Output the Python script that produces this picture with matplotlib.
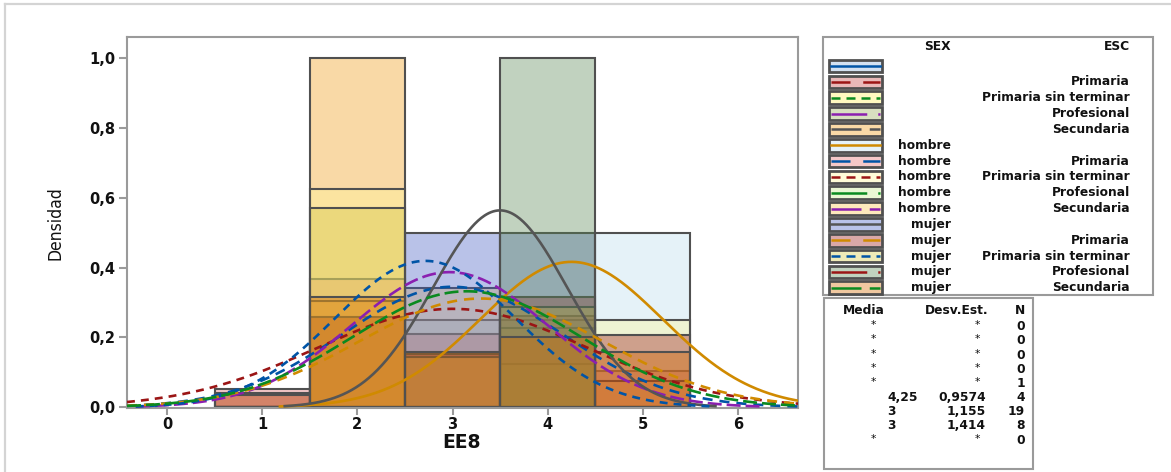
import numpy as np
import matplotlib
matplotlib.use("Agg")
import matplotlib.pyplot as plt
from matplotlib.patches import Rectangle
from matplotlib.lines import Line2D
from matplotlib.colors import to_rgb

# ---------------- data ----------------
bin_centers = [1, 2, 3, 4, 5]
x_ticks = [0, 1, 2, 3, 4, 5, 6]
y_ticks = [0.0, 0.2, 0.4, 0.6, 0.8, 1.0]
y_tick_labels = ["0,0", "0,2", "0,4", "0,6", "0,8", "1,0"]

sex_labels = ["", "", "", "", "", "hombre", "hombre", "hombre", "hombre", "hombre",
              "mujer", "mujer", "mujer", "mujer", "mujer"]
esc_labels = ["", "Primaria", "Primaria sin terminar", "Profesional", "Secundaria",
              "", "Primaria", "Primaria sin terminar", "Profesional", "Secundaria",
              "", "Primaria", "Primaria sin terminar", "Profesional", "Secundaria"]

# histogram densities per group (bins 1..5)
dens_secundaria = [0, 1.0, 0, 0, 0]
dens_hombre = [0, 0, 0.25, 0.25, 0.5]
dens_hombre_primaria = [0.053, 0.368, 0.21, 0.263, 0.105]
dens_hombre_pst = [0, 0.625, 0, 0.125, 0.25]
dens_hombre_secundaria = [0.042, 0.305, 0.343, 0.226, 0.074]
dens_mujer = [0, 0, 0.5, 0.5, 0]
dens_mujer_primaria = [0.036, 0.26, 0.154, 0.316, 0.208]
dens_mujer_pst = [0, 0.571, 0.143, 0.286, 0]
dens_mujer_profesional = [0, 0, 0, 1.0, 0]
dens_mujer_secundaria = [0, 0.317, 0.158, 0.2, 0.158]

# fitted normal parameters (mean, sd) per group; None = no curve
fit_mean = [None, None, None, None, None, 4.25, 3.0, 3.0, None, 2.97, 3.5, 3.3, 2.714, None, 3.15]
fit_sd = [None, None, None, None, None, 0.9574, 1.155, 1.414, None, 1.03, 0.7071, 1.28, 0.951, None, 1.2]

# stats table (visible rows)
tab_media = ["*", "*", "*", "*", "*", "4,25", "3", "3", "*"]
tab_desv = ["*", "*", "*", "*", "*", "0,9574", "1,155", "1,414", "*"]
tab_n = ["0", "0", "0", "0", "1", "4", "19", "8", "0"]

# ---------------- styles ----------------
group_dens = [None, None, None, None, dens_secundaria, dens_hombre, dens_hombre_primaria,
              dens_hombre_pst, None, dens_hombre_secundaria, dens_mujer, dens_mujer_primaria,
              dens_mujer_pst, dens_mujer_profesional, dens_mujer_secundaria]

# swatch colours (fill seen over white)
swatch_cols = ["#d3e1f1", "#e9b9b9", "#fff9c0", "#d8dfc0", "#f9d9a6", "#e6f2f8", "#f5c8c8",
               "#fffcd8", "#eaf7d4", "#fde8bc", "#b9c2e8", "#d9a8a8", "#eeeab8", "#c1d2bf", "#f0c8a0"]
ALPHA = 0.37

def base_col(c):
    rgb = np.array(to_rgb(c))
    return tuple(np.clip(1 - (1 - rgb) / ALPHA, 0, 1))

fill_rgba = [base_col(c) + (ALPHA,) for c in swatch_cols]

line_cols_cycle = ["#0054a6", "#9b1515", "#0a8a20", "#8b1fb0", "#555555", "#d08a00"]
line_cols = [line_cols_cycle[i % 6] for i in range(15)]
dash_cycle = ["-", (0, (3.8, 2.65)), (0, (3.0, 2.3)), (0, (7.6, 1.9)), (0, (5.3, 1.9))]
line_styles = [dash_cycle[i % 5] for i in range(15)]
legend_dash_cycle = ["-", (0, (7.6, 5.1)), (0, (3.6, 2.4)), (0, (14.3, 4.4)), (0, (12.0, 3.3))]

W, H = 1171, 472
fig = plt.figure(figsize=(W / 100, H / 100), dpi=100)

def fx(px):
    return px / W

def fy(py):
    return 1 - py / H

plt.rcParams["font.family"] = ["DejaVu Sans"]
TXT = "#111111"

# outer light border
fig.add_artist(Line2D([fx(5), 1.0], [fy(4), fy(4)], color="#d4d4d4", lw=1.6))
fig.add_artist(Line2D([fx(5), fx(5)], [fy(4), 0.0], color="#d4d4d4", lw=1.6))

# ---------------- main axes ----------------
L, R, T, B = 127, 798, 37, 408
ax = fig.add_axes([fx(L), fy(B), fx(R - L), (B - T) / H])
ax.set_xlim(-0.42, 6.63)
ax.set_ylim(-0.002, 1.061)

edge_col = "#505050"
for g in range(15):
    d = group_dens[g]
    if d is None:
        continue
    ax.bar(bin_centers, d, width=1.0, align="center", facecolor=fill_rgba[g],
           edgecolor=edge_col, linewidth=1.5, zorder=2)

for g in range(15):
    if fit_mean[g] is None:
        continue
    m, s = fit_mean[g], fit_sd[g]
    xs = np.linspace(max(m - 3.2 * s, -0.42), min(m + 3.2 * s, 6.63), 400)
    ys = np.exp(-0.5 * ((xs - m) / s) ** 2) / (s * np.sqrt(2 * np.pi))
    ax.plot(xs, ys, color=line_cols[g], linestyle=line_styles[g], lw=1.9, zorder=3)

for sp in ax.spines.values():
    sp.set_color("#9a9a9a")
    sp.set_linewidth(1.5)
ax.set_xticks(x_ticks)
ax.set_xticklabels([str(v) for v in x_ticks])
ax.set_yticks(y_ticks)
ax.set_yticklabels(y_tick_labels)
ax.tick_params(axis="both", colors="#9a9a9a", labelcolor=TXT, width=1.5,
               labelsize=10.5, length=5.0, pad=1.5)
ax.tick_params(axis="y", length=6, pad=2.5)
for lab in ax.get_xticklabels() + ax.get_yticklabels():
    lab.set_fontweight("bold")

fig.text(fx(462), fy(442), "EE8", ha="center", va="center", fontsize=13.5,
         fontweight="bold", color=TXT)
fig.text(fx(55), fy(223), "Densidad", ha="center", va="center", rotation=90,
         fontsize=12.5, fontstretch="condensed", color=TXT)

# ---------------- legend box ----------------
fig.add_artist(Rectangle((fx(823), fy(295)), fx(1153 - 823), (295 - 37) / H,
                         fill=False, edgecolor="#9a9a9a", lw=1.5))
fs_leg = 8.8
fig.text(fx(951), fy(47), "SEX", ha="right", va="center", fontsize=fs_leg,
         fontweight="bold", color=TXT)
fig.text(fx(1130), fy(47), "ESC", ha="right", va="center", fontsize=fs_leg,
         fontweight="bold", color=TXT)
row_y0, row_step = 66.0, 15.84
for g in range(15):
    yc = row_y0 + g * row_step
    fig.add_artist(Rectangle((fx(829), fy(yc + 6.3)), fx(53), 12.6 / H,
                             facecolor=swatch_cols[g], edgecolor=edge_col, lw=2.0))
    ls = legend_dash_cycle[g % 5]
    fig.add_artist(Line2D([fx(831.2), fx(880)], [fy(yc), fy(yc)], color=line_cols[g],
                          linestyle=ls, lw=1.8))
    fig.text(fx(951), fy(yc), sex_labels[g], ha="right", va="center", fontsize=fs_leg,
             fontweight="bold", color=TXT)
    fig.text(fx(1130), fy(yc), esc_labels[g], ha="right", va="center", fontsize=fs_leg,
             fontweight="bold", color=TXT)

# ---------------- stats table ----------------
fig.add_artist(Rectangle((fx(824), fy(469)), fx(1033 - 824), (469 - 298) / H,
                         fill=False, edgecolor="#9a9a9a", lw=1.5))
fig.text(fx(885), fy(310), "Media", ha="right", va="center", fontsize=fs_leg,
         fontweight="bold", color=TXT)
fig.text(fx(988), fy(310), "Desv.Est.", ha="right", va="center", fontsize=fs_leg,
         fontweight="bold", color=TXT)
fig.text(fx(1025), fy(310), "N", ha="right", va="center", fontsize=fs_leg,
         fontweight="bold", color=TXT)
for i in range(len(tab_n)):
    yc = 326.7 + i * 14.17
    if tab_media[i] == "*":
        fig.text(fx(876), fy(yc - 1.5), "*", ha="right", va="center", fontsize=fs_leg - 1,
                 color=TXT)
    else:
        fig.text(fx(887), fy(yc), tab_media[i], ha="left", va="center", fontsize=fs_leg,
                 fontweight="bold", color=TXT)
    if tab_desv[i] == "*":
        fig.text(fx(980), fy(yc - 1.5), "*", ha="right", va="center", fontsize=fs_leg - 1,
                 color=TXT)
    else:
        fig.text(fx(986), fy(yc), tab_desv[i], ha="right", va="center", fontsize=fs_leg,
                 fontweight="bold", color=TXT)
    fig.text(fx(1025), fy(yc), tab_n[i], ha="right", va="center", fontsize=fs_leg,
             fontweight="bold", color=TXT)

fig.savefig("out.png", dpi=100)
